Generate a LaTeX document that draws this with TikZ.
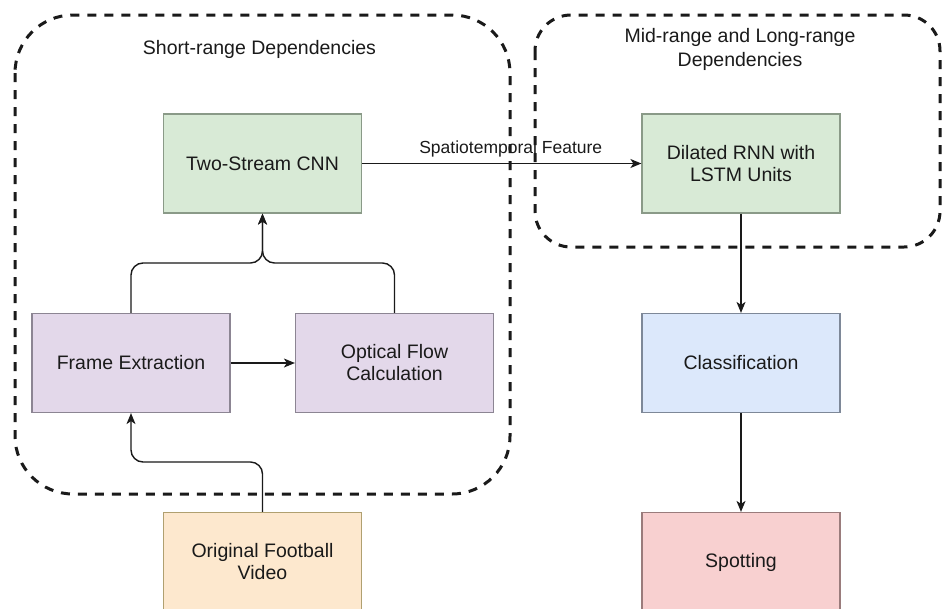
\documentclass[tikz,border=0pt]{standalone}
\usepackage{fontspec}
\setmainfont{Liberation Sans}
\usetikzlibrary{arrows.meta}

\definecolor{gfill}{HTML}{D8EAD6}
\definecolor{gline}{HTML}{8A9A88}
\definecolor{pfill}{HTML}{E3D8EA}
\definecolor{pline}{HTML}{8C8593}
\definecolor{bfill}{HTML}{DCE8FB}
\definecolor{bline}{HTML}{7E8898}
\definecolor{rfill}{HTML}{F8D0D0}
\definecolor{rline}{HTML}{9A7C7C}
\definecolor{ofill}{HTML}{FDE8CE}
\definecolor{oline}{HTML}{B0A070}
\definecolor{ink}{HTML}{1A1A1A}

\tikzset{
  procbox/.style={draw, line width=1.2pt, minimum width=198pt, minimum height=99pt,
    inner sep=0pt, align=center, text=ink, font=\fontsize{19.5}{22}\selectfont},
  greenbox/.style={procbox, fill=gfill, draw=gline},
  purplebox/.style={procbox, fill=pfill, draw=pline},
  bluebox/.style={procbox, fill=bfill, draw=bline},
  redbox/.style={procbox, fill=rfill, draw=rline},
  orangebox/.style={procbox, fill=ofill, draw=oline},
  region/.style={draw=ink, line width=3pt, dash pattern=on 9pt off 8pt},
  flow/.style={draw=ink, line width=1.4pt, -{Stealth[length=11pt,width=9pt,inset=3pt]}},
  grouplabel/.style={text=ink, align=center, font=\fontsize{19.5}{24}\selectfont},
  edgelabel/.style={text=ink, font=\fontsize{17.5}{20}\selectfont}
}

\begin{document}
\begin{tikzpicture}[x=1pt, y=-1pt]
  \useasboundingbox[fill=white] (0,0) rectangle (942,608);

  % dependency regions
  \draw[region, rounded corners=58pt] (15,15) rectangle (510,494);
  \draw[region, rounded corners=36pt] (535,15) rectangle (940,247);
  \node[grouplabel] (shortlbl) at (259.5,49) {Short-range Dependencies};
  \node[grouplabel] (midlbl) at (740,49) {Mid-range and Long-range\\Dependencies};

  % processing steps
  \node[greenbox]  (cnn)   at (262.5,163.5) {Two-Stream CNN};
  \node[purplebox] (frame) at (131,363)     {Frame Extraction};
  \node[purplebox] (flowc) at (394.5,363)   {Optical Flow\\Calculation};
  \node[orangebox] (video) at (262.5,562)   {Original Football\\Video};
  \node[greenbox]  (rnn)   at (741,163.5)   {Dilated RNN with\\LSTM Units};
  \node[bluebox]   (cls)   at (741,363)     {Classification};
  \node[redbox]    (spot)  at (741,562)     {Spotting};

  % junction points of the merged connectors
  \coordinate (merge) at (262.5,263);
  \coordinate (vturn) at (262.5,462);

  % connectors
  \draw[flow, rounded corners=12pt] (frame.north) |- (merge) -- (cnn.south);
  \draw[flow, rounded corners=12pt] (flowc.north) |- (merge) -- (cnn.south);
  \draw[flow] (frame.east) -- (flowc.west);
  \draw[flow, rounded corners=12pt] (video.north) -- (vturn) -| (frame.south);
  \draw[flow] (cnn.east) -- node[edgelabel, above=2pt, xshift=9pt] {Spatiotemporal Feature} (rnn.west);
  \draw[flow] (rnn.south) -- (cls.north);
  \draw[flow] (cls.south) -- (spot.north);
\end{tikzpicture}
\end{document}
